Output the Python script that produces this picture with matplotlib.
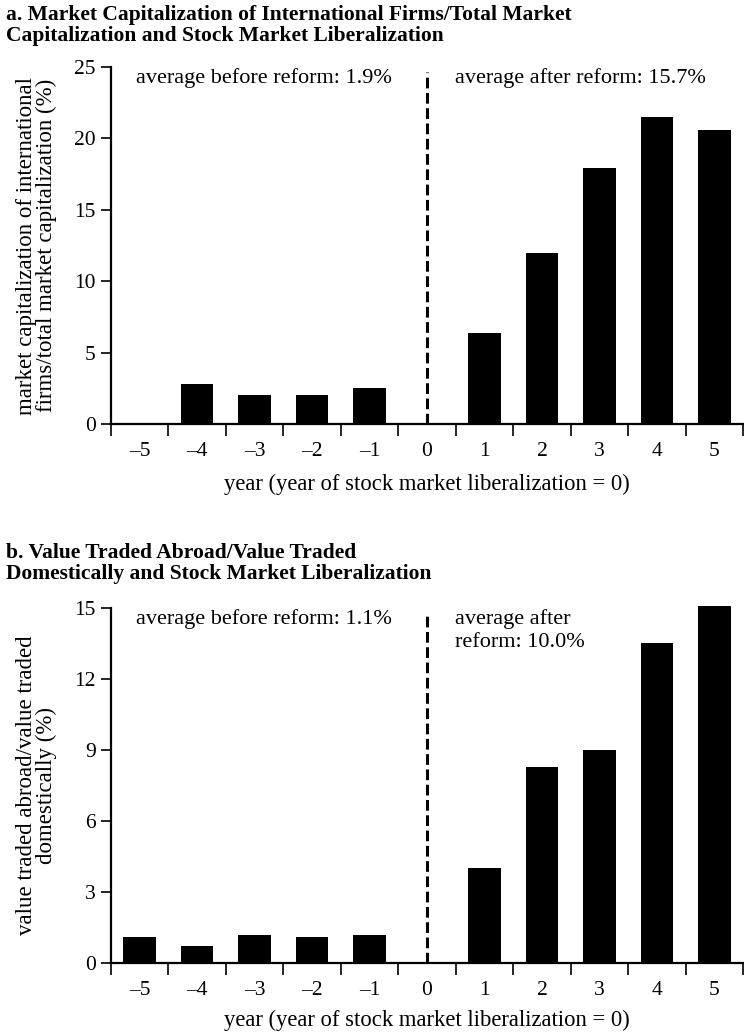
import numpy as np
import matplotlib
matplotlib.use("Agg")
import matplotlib.pyplot as plt

plt.rcParams['font.family'] = ['Liberation Serif', 'DejaVu Serif']

# data
years = [-5, -4, -3, -2, -1, 0, 1, 2, 3, 4, 5]
year_labels = ['\u20135', '\u20134', '\u20133', '\u20132', '\u20131', '0', '1', '2', '3', '4', '5']

mcap_share = [0.0, 2.8, 2.0, 2.0, 2.5, 0.0, 6.4, 12.0, 17.9, 21.5, 20.6]
traded_share = [1.1, 0.7, 1.2, 1.1, 1.2, 0.0, 4.0, 8.3, 9.0, 13.5, 15.1]

title_a = "a. Market Capitalization of International Firms/Total Market\nCapitalization and Stock Market Liberalization"
title_b = "b. Value Traded Abroad/Value Traded\nDomestically and Stock Market Liberalization"
ylab_a = "market capitalization of international\nfirms/total market capitalization (%)"
ylab_b = "value traded abroad/value traded\ndomestically (%)"
xlab = "year (year of stock market liberalization = 0)"

before_a = "average before reform: 1.9%"
after_a = "average after reform: 15.7%"
before_b = "average before reform: 1.1%"
after_b = "average after\nreform: 10.0%"

fig = plt.figure(figsize=(7.44, 10.35), dpi=100)


def panel(ax, values, ymax, yticks, ylab, before, after):
    ax.bar(years, values, width=0.57, color='black', clip_on=False, zorder=3)
    ax.set_xlim(-5.5, 5.5)
    ax.set_ylim(0, ymax)
    ax.spines['top'].set_visible(False)
    ax.spines['right'].set_visible(False)
    ax.spines['left'].set_linewidth(1.6)
    ax.spines['bottom'].set_linewidth(1.6)
    ax.spines['bottom'].set_zorder(4)

    # ticks between categories, labels at category centres
    ax.set_xticks(np.arange(-5.5, 6.0, 1.0))
    ax.set_xticklabels([])
    ax.set_xticks(years, minor=True)
    ax.set_xticklabels(year_labels, minor=True, fontsize=15.5)
    ax.tick_params(axis='x', which='major', direction='out', length=8.5, width=1.2)
    ax.tick_params(axis='x', which='minor', length=0, pad=13)

    ax.set_yticks(yticks)
    ax.set_yticklabels([str(t) for t in yticks], fontsize=15.5)
    ax.tick_params(axis='y', direction='out', length=7, width=1.2, pad=4)

    ax.axvline(0, ymin=0, ymax=0.985, color='black', lw=2.2, ls=(0, (3.5, 1.5)), zorder=2)

    ax.set_ylabel(ylab, fontsize=16.5, multialignment='center', linespacing=0.95)
    ax.yaxis.set_label_coords(-0.118, 0.5)
    ax.yaxis.label.set_va('center')

    ax.set_xlabel(xlab, fontsize=16.3)
    ax.xaxis.label.set_va('center')

    ax.text(0.04, 0.998, before, transform=ax.transAxes, fontsize=16,
            ha='left', va='top')
    ax.text(0.544, 0.998, after, transform=ax.transAxes, fontsize=16,
            ha='left', va='top', linespacing=1.35)


ax1 = fig.add_axes([0.149, 0.5903, 0.85, 0.3450])
panel(ax1, mcap_share, 25, [0, 5, 10, 15, 20, 25], ylab_a, before_a, after_a)
ax1.xaxis.set_label_coords(0.5, -0.17)

ax2 = fig.add_axes([0.149, 0.0696, 0.85, 0.3430])
panel(ax2, traded_share, 15, [0, 3, 6, 9, 12, 15], ylab_b, before_b, after_b)
ax2.xaxis.set_label_coords(0.5, -0.163)

fig.text(0.008, 1 - 5 / 1035, title_a, fontsize=15.5, fontweight='bold', va='top', linespacing=1.1)
fig.text(0.008, 1 - 543 / 1035, title_b, fontsize=15.5, fontweight='bold', va='top', linespacing=1.1)

fig.savefig("out.png", dpi=100)
